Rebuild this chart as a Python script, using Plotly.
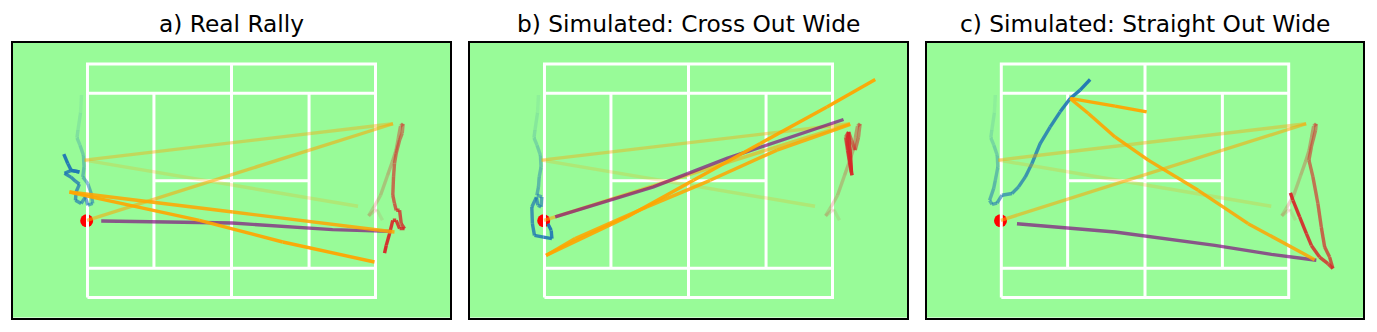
import plotly.graph_objects as go

# ---------------- court dimensions (metres) ----------------
COURT_HALF_LENGTH = 11.885
COURT_HALF_WIDTH = 5.485
SINGLES_HALF_WIDTH = 4.115
SERVICE_LINE_X = 6.4

TITLES = ["a) Real Rally", "b) Simulated: Cross Out Wide", "c) Simulated: Straight Out Wide"]

# ---------------- shared history (all panels) ----------------
P1_HIST_X = [-12.38, -12.46, -12.67, -12.75, -12.50, -12.22, -12.17]
P1_HIST_Y = [4.03, 3.18, 2.38, 2.02, 1.67, 1.20, 0.64]

P2_HIST_X = [12.46, 11.97, 11.31, 11.72, 12.30, 12.88, 13.29, 13.58, 13.78, 13.95, 14.16]
P2_HIST_Y = [-1.86, -1.34, -1.65, -1.27, -0.68, 0.26, 0.92, 1.44, 2.05, 2.57, 2.68]

BALL_HIST_X = [10.44, -12.13, 13.33, -11.92]
BALL_HIST_Y = [-1.20, 0.97, 2.68, -1.86]
BALL_HIST_ALPHA = [0.22, 0.40, 0.55]

BALL_NOW_X = [-11.95]
BALL_NOW_Y = [-1.88]

# ---------------- panel a: real rally ----------------
A_P1_X = [-12.27, -11.86, -11.58, -11.45, -11.86, -12.05, -12.41, -12.88, -12.82, -12.55,
          -12.88, -13.23, -13.78, -13.21, -12.55, -13.23, -13.51, -13.84]
A_P1_Y = [0.18, -0.13, -0.60, -1.07, -1.15, -0.76, -1.07, -0.92, -0.53, -0.16,
          -0.02, 0.16, 0.35, 0.49, 0.41, 0.49, 0.81, 1.25]
A_P2_X = [14.09, 13.87, 13.59, 13.45, 13.37, 13.31, 13.45, 13.59, 13.87, 14.01, 14.28,
          13.87, 13.59, 13.31, 13.04, 12.77, 12.63]
A_P2_Y = [2.24, 1.91, 1.28, 0.81, 0.18, -0.68, -1.07, -1.39, -1.39, -2.02, -2.25,
          -2.25, -1.86, -1.86, -2.49, -3.04, -3.40]
A_SHOT_X = [-10.75, 0.08, 8.34, 13.04]
A_SHOT_Y = [-1.89, -1.99, -2.30, -2.38]
A_BALL_X = [13.45, 0.11, -13.37, -12.55, -2.64, 4.23, 11.80]
A_BALL_Y = [-2.41, -1.47, -0.53, -0.64, -1.86, -2.88, -3.82]

# ---------------- panel b: simulated cross out wide ----------------
B_P1_X = [-12.32, -12.38, -12.51, -12.10, -12.16, -12.43, -12.55, -12.93, -12.88, -12.71,
          -11.97, -11.27, -11.33, -11.61]
B_P1_Y = [0.18, -0.29, -0.68, -0.76, -1.23, -1.15, -0.78, -1.23, -2.02, -2.57,
          -2.65, -2.72, -2.33, -2.02]
B_P2_X = [14.03, 13.76, 13.45, 13.21, 12.96, 13.12, 13.29, 13.49, 13.35, 13.07, 13.21, 13.37, 13.45]
B_P2_Y = [2.05, 1.44, 1.91, 2.30, 2.05, 1.44, 0.87, 0.26, 0.73, 1.91, 2.28, 1.20, 0.40]
B_SHOT_X = [-11.00, -2.89, 3.17, 12.79]
B_SHOT_Y = [-1.70, -0.29, 1.05, 2.88]
B_BALL_X = [13.35, 7.30, 1.79, -3.43, -9.35, -11.75, -5.08, 0.41, 5.92, 11.42, 15.41]
B_BALL_Y = [2.65, 1.44, 0.02, -1.23, -2.72, -3.51, -1.70, 0.02, 1.75, 3.47, 4.76]

# ---------------- panel c: simulated straight out wide ----------------
C_P1_X = [-12.38, -12.52, -12.85, -12.65, -12.24, -11.83, -11.00, -10.46, -9.90, -9.35,
          -8.67, -7.84, -7.02, -6.19, -5.37, -4.54]
C_P1_Y = [0.02, -0.37, -0.92, -1.11, -1.05, -0.68, -0.60, -0.29, 0.18, 0.81,
          1.75, 2.53, 3.24, 3.87, 4.26, 4.76]
C_P2_X = [14.11, 13.76, 13.56, 13.89, 14.30, 14.58, 14.86, 15.27, 15.54, 15.13, 14.44,
          13.76, 13.35, 12.79, 12.24, 12.03]
C_P2_Y = [2.38, 1.59, 0.97, 0.18, -1.07, -2.18, -3.12, -3.59, -4.13, -3.90, -3.59,
          -3.04, -2.49, -1.70, -0.92, -0.57]
C_SHOT_X = [-10.59, -2.48, 5.78, 10.46, 14.17]
C_SHOT_Y = [-2.02, -2.41, -3.04, -3.46, -3.74]
C_BALL_X = [14.03, 8.53, 4.40, 0.27, -2.48, -4.68, -6.19, -2.48, 0.14]
C_BALL_Y = [-3.71, -2.02, -0.45, 0.97, 2.06, 3.16, 3.87, 3.51, 3.24]

PANELS = [
    (A_P1_X, A_P1_Y, A_P2_X, A_P2_Y, A_SHOT_X, A_SHOT_Y, A_BALL_X, A_BALL_Y),
    (B_P1_X, B_P1_Y, B_P2_X, B_P2_Y, B_SHOT_X, B_SHOT_Y, B_BALL_X, B_BALL_Y),
    (C_P1_X, C_P1_Y, C_P2_X, C_P2_Y, C_SHOT_X, C_SHOT_Y, C_BALL_X, C_BALL_Y),
]

BLUE = (31, 119, 180)
RED = (214, 39, 40)
ORANGE = (255, 165, 0)
PURPLE = "rgba(128,0,128,0.66)"
GRASS = "#98FB98"
LW = 3.4

# the page body has an 8px default margin: size the figure to the remaining area
OFF = 8
FIG_W = 1377 - OFF
FIG_H = 332 - OFF

fig = go.Figure()


def rgba(c, a):
    return "rgba(%d,%d,%d,%.3f)" % (c[0], c[1], c[2], a)


def add_segments(xs, ys, color, alphas, ax):
    for i in range(len(xs) - 1):
        fig.add_trace(go.Scatter(
            x=[xs[i], xs[i + 1]], y=[ys[i], ys[i + 1]], mode="lines",
            line=dict(color=rgba(color, alphas[i]), width=LW),
            xaxis="x" + ax, yaxis="y" + ax, hoverinfo="skip", showlegend=False))


def ramp(n, a0, a1):
    if n <= 1:
        return [a1] * n
    return [a0 + (a1 - a0) * k / (n - 1) for k in range(n)]


def court_xy():
    L, W, S, SV = COURT_HALF_LENGTH, COURT_HALF_WIDTH, SINGLES_HALF_WIDTH, SERVICE_LINE_X
    segs = [
        ([-L, L, L, -L, -L], [-W, -W, W, W, -W]),
        ([-L, L], [S, S]), ([-L, L], [-S, -S]),
        ([-SV, -SV], [-S, S]), ([SV, SV], [-S, S]),
        ([-SV, SV], [0, 0]),
        ([0, 0], [-W, W]),
    ]
    xs, ys = [], []
    for sx, sy in segs:
        xs += sx + [None]
        ys += sy + [None]
    return xs, ys


CX, CY = court_xy()

for idx, (p1x, p1y, p2x, p2y, shx, shy, bx, by) in enumerate(PANELS):
    ax = "" if idx == 0 else str(idx + 1)
    # current ball position (under the court lines)
    fig.add_trace(go.Scatter(x=BALL_NOW_X, y=BALL_NOW_Y, mode="markers",
                             marker=dict(color="red", size=13, line=dict(width=0)),
                             xaxis="x" + ax, yaxis="y" + ax, hoverinfo="skip", showlegend=False))
    # court
    fig.add_trace(go.Scatter(x=CX, y=CY, mode="lines", line=dict(color="white", width=3),
                             xaxis="x" + ax, yaxis="y" + ax, hoverinfo="skip", showlegend=False))
    # player 1
    xs = P1_HIST_X + p1x
    ys = P1_HIST_Y + p1y
    al = ramp(len(P1_HIST_X), 0.08, 0.45) + ramp(len(p1x), 0.5, 1.0)
    add_segments(xs, ys, BLUE, al, ax)
    # player 2
    xs = P2_HIST_X + p2x
    ys = P2_HIST_Y + p2y
    al = ramp(len(P2_HIST_X), 0.1, 0.5) + ramp(len(p2x), 0.55, 1.0)
    add_segments(xs, ys, RED, al, ax)
    # ball history
    add_segments(BALL_HIST_X, BALL_HIST_Y, ORANGE, BALL_HIST_ALPHA, ax)
    # shot (purple)
    fig.add_trace(go.Scatter(x=shx, y=shy, mode="lines", line=dict(color=PURPLE, width=LW),
                             xaxis="x" + ax, yaxis="y" + ax, hoverinfo="skip", showlegend=False))
    # ball future
    add_segments(bx, by, ORANGE, ramp(len(bx) - 1, 0.85, 0.95), ax)


def xd(a, b):
    return [(a - OFF) / FIG_W, (b - OFF) / FIG_W]


X_DOMAINS = [xd(13, 450), xd(470, 907), xd(927, 1363)]
Y_DOMAIN = [1 - (317.5 - OFF) / FIG_H, 1 - (42.5 - OFF) / FIG_H]

layout = dict(
    width=FIG_W, height=FIG_H, margin=dict(l=0, r=0, t=0, b=0),
    paper_bgcolor="white", plot_bgcolor=GRASS, showlegend=False,
    font=dict(family="DejaVu Sans", color="black"),
)
annotations = []
for i in range(3):
    sfx = "" if i == 0 else str(i + 1)
    layout["xaxis" + sfx] = dict(domain=X_DOMAINS[i], range=[-18.03, 18.03], showgrid=False,
                                 zeroline=False, showticklabels=False, ticks="",
                                 showline=True, mirror=True, linecolor="black", linewidth=1.5,
                                 anchor="y" + sfx, fixedrange=True)
    layout["yaxis" + sfx] = dict(domain=Y_DOMAIN, range=[-6.43, 6.50], showgrid=False,
                                 zeroline=False, showticklabels=False, ticks="",
                                 showline=True, mirror=True, linecolor="black", linewidth=1.5,
                                 anchor="x" + sfx, fixedrange=True)
    annotations.append(dict(text=TITLES[i], x=sum(X_DOMAINS[i]) / 2, y=1 - (23.5 - OFF) / FIG_H,
                            xref="paper", yref="paper", xanchor="center", yanchor="middle",
                            showarrow=False, font=dict(size=23.3, family="DejaVu Sans", color="black")))
layout["annotations"] = annotations
fig.update_layout(**layout)

fig.write_html("out.html")
